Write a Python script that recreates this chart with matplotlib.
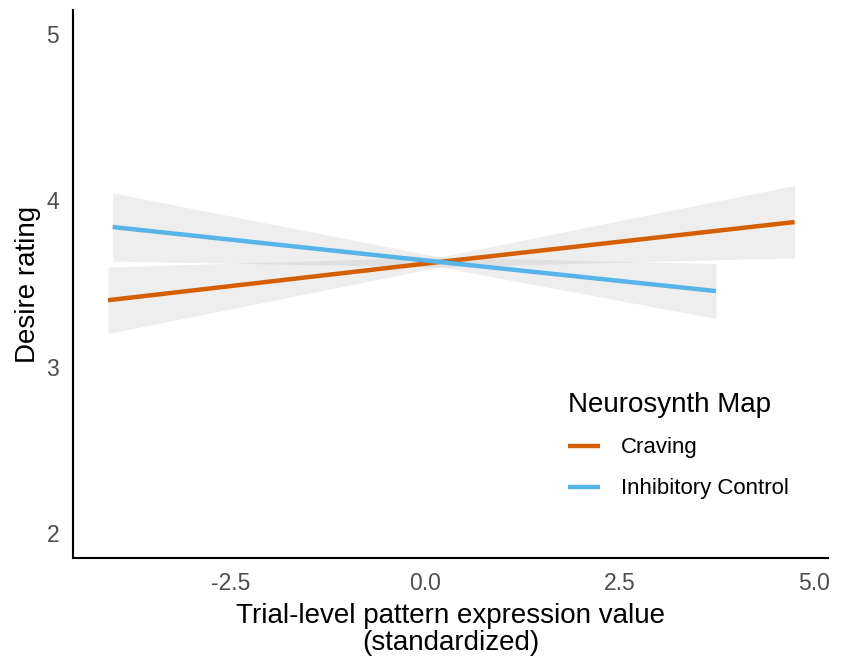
import matplotlib
matplotlib.use("Agg")
import matplotlib.pyplot as plt

plt.rcParams['font.family'] = ['Liberation Sans', 'DejaVu Sans']

# regression fits (left end, crossing, right end)
craving_x = [-4.07, 0.19, 4.75]
craving_y = [3.40, 3.63, 3.87]
craving_lo = [3.20, 3.60, 3.655]
craving_hi = [3.60, 3.66, 4.09]

inhib_x = [-4.01, 0.19, 3.74]
inhib_y = [3.84, 3.63, 3.455]
inhib_lo = [3.635, 3.60, 3.29]
inhib_hi = [4.045, 3.66, 3.62]

x_ticks = [-2.5, 0.0, 2.5, 5.0]
y_ticks = [2, 3, 4, 5]

orange = '#D55E00'
blue = '#56B4E9'

fig = plt.figure(figsize=(8.45, 6.56), dpi=100)
ax = fig.add_axes([73 / 845, 98 / 656, (828 - 73) / 845, (558 - 10) / 656])

ax.fill_between(craving_x, craving_lo, craving_hi, color='#999999', alpha=0.16, lw=0)
ax.fill_between(inhib_x, inhib_lo, inhib_hi, color='#999999', alpha=0.16, lw=0)
ax.plot(craving_x, craving_y, color=orange, lw=3.2, label='Craving', solid_capstyle='butt')
ax.plot(inhib_x, inhib_y, color=blue, lw=3.2, label='Inhibitory Control', solid_capstyle='butt')

ax.set_xlim(-4.52, 5.18)
ax.set_ylim(1.85, 5.145)
ax.set_xticks(x_ticks)
ax.set_xticklabels(['%.1f' % v for v in x_ticks])
ax.set_yticks(y_ticks)
ax.tick_params(length=0, labelsize=16.5, labelcolor='#4D4D4D', pad=10)

for s in ['top', 'right']:
    ax.spines[s].set_visible(False)
for s in ['left', 'bottom']:
    ax.spines[s].set_linewidth(1.5)

ax.set_xlabel('Trial-level pattern expression value\n(standardized)', fontsize=20, labelpad=6,
              linespacing=1.05)
ax.set_ylabel('Desire rating', fontsize=20, labelpad=4)

leg = ax.legend(title='Neurosynth Map', frameon=False, fontsize=16, title_fontsize=20,
                loc='upper left', bbox_to_anchor=(548 / 845, 1 - 372 / 656),
                bbox_transform=fig.transFigure, alignment='left',
                handlelength=1.45, handletextpad=0.95, labelspacing=0.9)
leg._legend_box.sep = 14

fig.savefig('out.png', dpi=100)
